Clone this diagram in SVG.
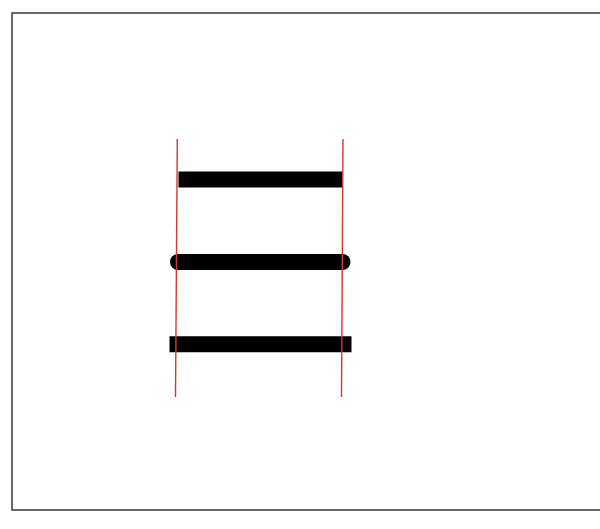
<svg xmlns="http://www.w3.org/2000/svg" width="600" height="529" viewBox="0 0 600 529">
<style>
.bar{stroke:#000;stroke-width:16;fill:none}
.guide{stroke:#d0392b;stroke-width:1.4;fill:none}
</style>
<rect x="0" y="0" width="600" height="529" fill="#fff"/>
<rect x="12" y="13" width="600" height="497" fill="none" stroke="#444" stroke-width="1.6"/>
<g id="butt"><line class="bar" x1="178.5" y1="179.5" x2="342.5" y2="179.5" stroke-linecap="butt"/></g>
<g id="round"><line class="bar" x1="178" y1="262" x2="342.5" y2="262" stroke-linecap="round"/></g>
<g id="square"><line class="bar" x1="177.5" y1="344.3" x2="343.5" y2="344.3" stroke-linecap="square"/></g>
<g id="guides">
<line class="guide" x1="177.3" y1="139" x2="175.5" y2="397"/>
<line class="guide" x1="343" y1="139" x2="341.5" y2="397"/>
</g>
</svg>
